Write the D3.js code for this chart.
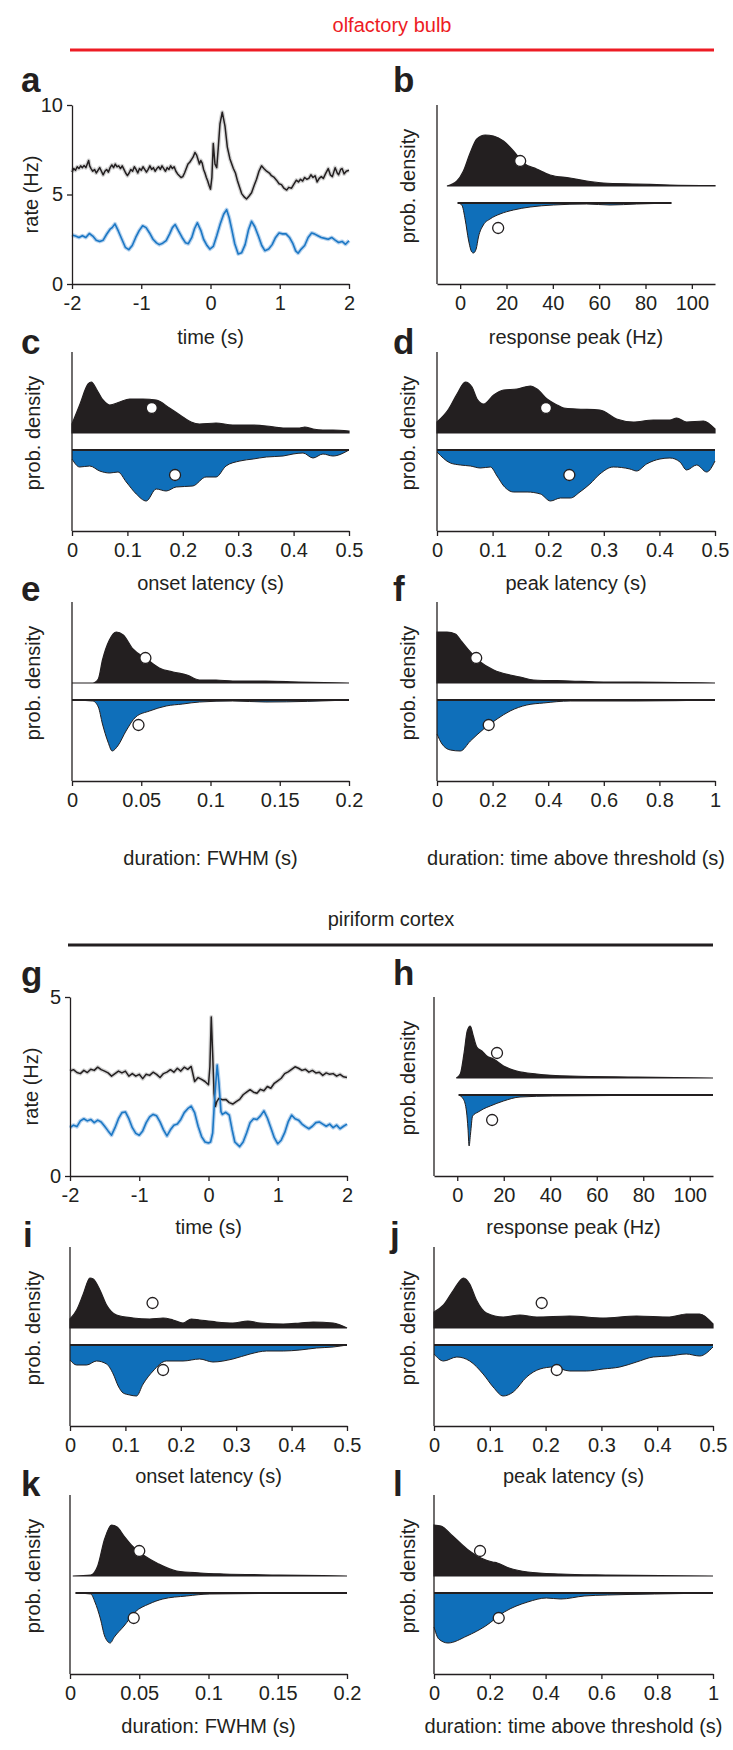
<!DOCTYPE html>
<html><head><meta charset="utf-8">
<script src="https://cdn.jsdelivr.net/npm/d3@7"></script>
<style>
body{margin:0;background:#fff}
svg{display:block}
text{font-family:"Liberation Sans",Arial,Helvetica,sans-serif;fill:#231f20}
</style>
</head><body>
<svg id="chart" width="733" height="1750"></svg>
<script>
// ---------- DATA ----------
const sectionTitles = ["olfactory bulb", "piriform cortex"];
const timeTicks = [-2, -1, 0, 1, 2];
const peakTicks = [0, 20, 40, 60, 80, 100];
const latTicks = [0, 0.1, 0.2, 0.3, 0.4, 0.5];
const fwhmTicks = [0, 0.05, 0.1, 0.15, 0.2];
const tatTicks = [0, 0.2, 0.4, 0.6, 0.8, 1];
const rateTicksA = [0, 5, 10];
const rateTicksG = [0, 5];

// panel a: firing rate (Hz) vs time (s)
const aBlack = [[-2,6.25],[-1.975,6.45],[-1.95,6.35],[-1.925,6.55],[-1.9,6.45],[-1.875,6.6],[-1.85,6.5],[-1.825,6.62],[-1.8,6.5],[-1.775,6.75],[-1.76,6.9],[-1.745,6.6],[-1.725,6.45],[-1.7,6.3],[-1.675,6.4],[-1.65,6.2],[-1.625,6.35],[-1.6,6.5],[-1.575,6.3],[-1.55,6.1],[-1.525,6.3],[-1.5,6.4],[-1.475,6.25],[-1.45,6.5],[-1.425,6.65],[-1.4,6.5],[-1.375,6.7],[-1.35,6.55],[-1.325,6.6],[-1.3,6.45],[-1.275,6.6],[-1.25,6.4],[-1.225,6.2],[-1.2,6.05],[-1.175,6.2],[-1.15,6.4],[-1.125,6.3],[-1.1,6.55],[-1.075,6.4],[-1.05,6.2],[-1.025,6.45],[-1.0,6.35],[-0.975,6.55],[-0.95,6.4],[-0.925,6.25],[-0.9,6.4],[-0.875,6.6],[-0.85,6.4],[-0.825,6.5],[-0.8,6.3],[-0.775,6.45],[-0.75,6.55],[-0.725,6.4],[-0.7,6.6],[-0.675,6.45],[-0.65,6.3],[-0.625,6.5],[-0.6,6.4],[-0.575,6.6],[-0.55,6.45],[-0.525,6.55],[-0.5,6.3],[-0.475,6.15],[-0.45,6.05],[-0.425,5.95],[-0.4,6.0],[-0.375,6.2],[-0.35,6.45],[-0.325,6.7],[-0.3,6.8],[-0.275,6.95],[-0.25,7.1],[-0.225,7.35],[-0.2,7.2],[-0.18,6.95],[-0.16,6.7],[-0.14,6.9],[-0.12,6.75],[-0.1,6.4],[-0.08,6.2],[-0.06,5.95],[-0.04,5.75],[-0.02,5.5],[0,5.3],[0.02,5.95],[0.04,7.85],[0.065,6.7],[0.09,6.5],[0.113,7.65],[0.137,8.95],[0.17,9.6],[0.21,8.8],[0.243,7.65],[0.28,7.0],[0.33,6.45],[0.36,6.2],[0.387,5.8],[0.42,5.4],[0.45,5.05],[0.49,4.85],[0.52,4.75],[0.555,4.9],[0.593,5.1],[0.63,5.5],[0.665,5.85],[0.7,6.3],[0.737,6.6],[0.77,6.45],[0.81,6.3],[0.85,6.2],[0.88,6.05],[0.92,5.95],[0.953,5.8],[0.99,5.6],[1.025,5.55],[1.06,5.35],[1.1,5.25],[1.13,5.4],[1.17,5.35],[1.2,5.55],[1.24,5.8],[1.27,5.7],[1.3,5.85],[1.33,5.75],[1.36,5.95],[1.39,5.85],[1.42,5.9],[1.45,6.1],[1.48,5.95],[1.51,6.05],[1.54,5.7],[1.57,5.9],[1.6,6.0],[1.63,5.9],[1.66,6.15],[1.7,6.45],[1.73,6.1],[1.76,6.0],[1.8,6.5],[1.83,6.2],[1.85,6.1],[1.88,6.4],[1.9,6.45],[1.93,6.15],[1.96,6.3],[2,6.35]];
const aBlue = [[-2,2.74],[-1.95,2.68],[-1.9,2.6],[-1.85,2.7],[-1.8,2.6],[-1.75,2.82],[-1.7,2.68],[-1.65,2.45],[-1.6,2.38],[-1.55,2.45],[-1.5,2.78],[-1.45,3.06],[-1.42,3.15],[-1.38,3.36],[-1.33,2.95],[-1.28,2.5],[-1.23,2.05],[-1.18,1.92],[-1.13,2.15],[-1.08,2.6],[-1.03,2.98],[-0.98,3.25],[-0.93,3.15],[-0.88,2.85],[-0.83,2.5],[-0.78,2.3],[-0.74,2.2],[-0.69,2.28],[-0.64,2.42],[-0.59,2.8],[-0.55,3.15],[-0.51,3.32],[-0.46,2.95],[-0.41,2.6],[-0.36,2.3],[-0.32,2.25],[-0.27,2.6],[-0.23,3.1],[-0.19,3.42],[-0.14,3.0],[-0.1,2.5],[-0.05,2.15],[-0.01,1.95],[0.04,2.1],[0.09,2.7],[0.14,3.35],[0.19,3.9],[0.233,4.15],[0.27,3.7],[0.31,3.0],[0.35,2.25],[0.4,1.68],[0.45,1.75],[0.5,2.2],[0.55,3.05],[0.593,3.5],[0.64,3.2],[0.69,2.7],[0.74,2.15],[0.785,1.86],[0.84,1.95],[0.89,2.2],[0.94,2.6],[0.99,2.85],[1.04,2.8],[1.09,2.8],[1.14,2.6],[1.19,2.25],[1.23,1.85],[1.265,1.72],[1.31,1.95],[1.36,2.15],[1.41,2.6],[1.46,2.85],[1.5,2.8],[1.55,2.7],[1.6,2.6],[1.65,2.55],[1.7,2.5],[1.75,2.6],[1.8,2.45],[1.85,2.32],[1.9,2.38],[1.95,2.22],[2,2.42]];

// panel g
const gBlack = [[-2,2.93],[-1.95,2.97],[-1.9,2.89],[-1.85,2.86],[-1.8,2.95],[-1.75,2.89],[-1.7,2.98],[-1.65,2.95],[-1.6,3.04],[-1.55,2.97],[-1.5,2.93],[-1.45,2.88],[-1.4,2.79],[-1.35,2.86],[-1.3,2.93],[-1.25,2.88],[-1.2,2.93],[-1.15,2.79],[-1.1,2.86],[-1.05,2.79],[-1.0,2.84],[-0.95,2.72],[-0.9,2.84],[-0.85,2.81],[-0.8,2.9],[-0.75,2.84],[-0.7,2.75],[-0.65,2.86],[-0.6,2.9],[-0.55,2.97],[-0.5,2.9],[-0.45,3.01],[-0.4,2.93],[-0.35,3.04],[-0.3,2.98],[-0.25,3.06],[-0.2,2.64],[-0.15,2.75],[-0.1,2.7],[-0.05,2.64],[0,2.55],[0.02,3.05],[0.04,4.44],[0.06,3.43],[0.08,2.31],[0.1,1.94],[0.12,2.08],[0.15,2.17],[0.2,2.13],[0.25,2.14],[0.3,2.05],[0.35,2.01],[0.4,2.08],[0.45,2.14],[0.5,2.27],[0.55,2.34],[0.6,2.41],[0.65,2.34],[0.7,2.31],[0.75,2.42],[0.8,2.38],[0.85,2.5],[0.9,2.45],[0.95,2.59],[1.0,2.66],[1.05,2.73],[1.1,2.86],[1.15,2.91],[1.2,2.98],[1.25,3.05],[1.3,3.01],[1.35,2.95],[1.4,2.98],[1.45,2.9],[1.5,2.95],[1.55,2.88],[1.6,2.9],[1.65,2.81],[1.7,2.88],[1.75,2.84],[1.8,2.86],[1.85,2.79],[1.9,2.84],[1.95,2.77],[2,2.75]];
const gBlue = [[-2,1.35],[-1.95,1.42],[-1.9,1.38],[-1.85,1.54],[-1.8,1.6],[-1.75,1.54],[-1.7,1.58],[-1.65,1.49],[-1.6,1.56],[-1.55,1.51],[-1.5,1.39],[-1.45,1.26],[-1.4,1.14],[-1.35,1.35],[-1.3,1.6],[-1.25,1.77],[-1.2,1.79],[-1.15,1.6],[-1.1,1.35],[-1.05,1.19],[-1.0,1.14],[-0.95,1.26],[-0.9,1.49],[-0.85,1.65],[-0.8,1.72],[-0.75,1.68],[-0.7,1.51],[-0.65,1.29],[-0.6,1.12],[-0.55,1.29],[-0.5,1.42],[-0.45,1.45],[-0.4,1.58],[-0.35,1.77],[-0.3,1.88],[-0.25,1.95],[-0.2,1.77],[-0.15,1.39],[-0.1,1.1],[-0.05,0.95],[0,0.92],[0.03,0.95],[0.06,1.2],[0.09,2.2],[0.125,3.1],[0.15,2.6],[0.18,1.8],[0.2,1.72],[0.25,1.78],[0.3,1.7],[0.34,1.3],[0.38,0.95],[0.45,0.82],[0.5,0.95],[0.55,1.2],[0.6,1.49],[0.65,1.6],[0.7,1.58],[0.75,1.68],[0.8,1.82],[0.85,1.62],[0.9,1.35],[0.95,1.07],[1.0,0.9],[1.05,1.0],[1.1,1.21],[1.15,1.51],[1.2,1.7],[1.25,1.6],[1.3,1.56],[1.35,1.45],[1.4,1.38],[1.45,1.32],[1.5,1.39],[1.55,1.49],[1.6,1.51],[1.65,1.45],[1.7,1.39],[1.75,1.45],[1.8,1.35],[1.85,1.42],[1.9,1.32],[1.95,1.39],[2,1.45]];

// probability densities (relative units), [value, density]
const bBlack = [[-5.7,0],[-1.4,0.10],[1.4,0.30],[4.3,0.66],[7.2,0.94],[10.8,1.02],[14.4,1.0],[18.7,0.90],[23.0,0.70],[27.3,0.46],[33.0,0.34],[38.8,0.22],[47.4,0.16],[54.6,0.10],[61.8,0.06],[76.2,0.04],[90.5,0.02],[110,0.01]];
const bBlue = [[-1.1,0],[0.7,0.04],[2.2,0.34],[3.6,0.74],[5.0,0.98],[5.7,1.0],[6.9,0.92],[7.9,0.68],[10.0,0.44],[12.9,0.32],[17.2,0.22],[23.0,0.14],[30.2,0.08],[40.2,0.04],[54.6,0.02],[64.7,0.04],[76.2,0.02],[91.2,0]];
const cBlack = [[0,0.18],[0.0138,0.56],[0.029,0.98],[0.035,1.02],[0.044,0.88],[0.056,0.66],[0.068,0.56],[0.086,0.62],[0.104,0.68],[0.128,0.68],[0.152,0.66],[0.176,0.50],[0.200,0.32],[0.215,0.22],[0.230,0.18],[0.260,0.20],[0.290,0.16],[0.321,0.16],[0.351,0.14],[0.381,0.10],[0.411,0.10],[0.420,0.12],[0.435,0.08],[0.453,0.06],[0.471,0.06],[0.5,0.04]];
const cBlue = [[0,0.18],[0.0138,0.34],[0.032,0.32],[0.050,0.42],[0.068,0.46],[0.083,0.44],[0.098,0.64],[0.116,0.88],[0.134,1.02],[0.152,0.78],[0.170,0.82],[0.188,0.74],[0.218,0.72],[0.242,0.54],[0.260,0.54],[0.278,0.32],[0.303,0.22],[0.327,0.18],[0.351,0.14],[0.381,0.12],[0.399,0.08],[0.417,0.06],[0.435,0.16],[0.453,0.08],[0.471,0.12],[0.5,0]];
const dBlack = [[0,0.22],[0.021,0.48],[0.036,0.78],[0.051,1.02],[0.063,0.92],[0.072,0.68],[0.084,0.58],[0.102,0.76],[0.120,0.86],[0.144,0.88],[0.168,0.94],[0.180,0.88],[0.198,0.68],[0.216,0.56],[0.228,0.50],[0.251,0.48],[0.293,0.46],[0.323,0.28],[0.353,0.22],[0.389,0.26],[0.419,0.26],[0.431,0.30],[0.449,0.22],[0.479,0.24],[0.5,0.08]];
const dBlue = [[0,0.04],[0.024,0.26],[0.042,0.30],[0.060,0.32],[0.078,0.36],[0.096,0.34],[0.108,0.52],[0.120,0.72],[0.138,0.84],[0.162,0.84],[0.186,0.88],[0.204,1.02],[0.222,0.96],[0.240,0.96],[0.257,0.84],[0.275,0.68],[0.293,0.48],[0.317,0.34],[0.347,0.38],[0.359,0.42],[0.377,0.28],[0.401,0.18],[0.419,0.16],[0.437,0.24],[0.449,0.40],[0.467,0.30],[0.485,0.44],[0.5,0.22]];
const eBlack = [[0,0],[0.015,0],[0.019,0.08],[0.022,0.46],[0.027,0.86],[0.032,1.02],[0.037,0.96],[0.044,0.68],[0.054,0.48],[0.063,0.30],[0.073,0.22],[0.083,0.16],[0.092,0.06],[0.104,0.06],[0.116,0.04],[0.140,0.04],[0.164,0.02],[0.2,0]];
const eBlue = [[0,0],[0.015,0.02],[0.019,0.14],[0.022,0.48],[0.026,0.84],[0.029,1.02],[0.033,0.92],[0.039,0.62],[0.046,0.34],[0.056,0.22],[0.068,0.12],[0.080,0.08],[0.092,0.04],[0.116,0.02],[0.140,0.04],[0.2,0]];
const fBlack = [[0,1.02],[0.036,1.02],[0.066,0.98],[0.090,0.82],[0.120,0.62],[0.156,0.42],[0.204,0.26],[0.263,0.16],[0.299,0.12],[0.347,0.06],[0.479,0.04],[0.599,0.02],[0.719,0.02],[1,0]];
const fBlue = [[0,0.68],[0.018,0.88],[0.048,1.0],[0.084,1.02],[0.120,0.82],[0.168,0.58],[0.216,0.38],[0.263,0.22],[0.323,0.10],[0.383,0.06],[0.479,0.02],[0.719,0.02],[1,0]];
const hBlack = [[-0.4,0],[1.3,0.08],[3.0,0.52],[4.3,0.94],[5.6,1.04],[6.9,0.84],[8.4,0.62],[10.6,0.54],[12.7,0.44],[15.6,0.38],[19.9,0.24],[25.6,0.14],[34.2,0.08],[48.5,0.04],[77.2,0.02],[110,0]];
const hBlue = [[0.6,0],[2.6,0.08],[4.0,0.34],[4.6,0.66],[5.1,1.02],[5.7,0.78],[6.6,0.42],[9,0.34],[11.2,0.28],[14.2,0.22],[19.9,0.12],[27,0.04],[41,0.02],[110,0]];
const iBlack = [[0,0.18],[0.012,0.36],[0.024,0.68],[0.036,1.0],[0.042,0.98],[0.054,0.76],[0.066,0.46],[0.084,0.26],[0.114,0.20],[0.144,0.18],[0.168,0.20],[0.186,0.16],[0.204,0.10],[0.219,0.18],[0.234,0.16],[0.264,0.12],[0.294,0.10],[0.321,0.14],[0.343,0.10],[0.385,0.08],[0.415,0.10],[0.439,0.12],[0.475,0.10],[0.5,0]];
const iBlue = [[0,0.30],[0.012,0.40],[0.030,0.40],[0.048,0.32],[0.066,0.38],[0.078,0.58],[0.087,0.82],[0.096,0.96],[0.108,1.0],[0.120,1.02],[0.132,0.78],[0.150,0.52],[0.174,0.32],[0.204,0.32],[0.234,0.28],[0.258,0.34],[0.294,0.28],[0.325,0.18],[0.355,0.12],[0.385,0.12],[0.415,0.10],[0.445,0.06],[0.475,0.04],[0.5,0]];
const jBlack = [[0,0.32],[0.017,0.46],[0.035,0.76],[0.053,1.0],[0.064,0.88],[0.076,0.56],[0.094,0.30],[0.124,0.22],[0.154,0.26],[0.184,0.22],[0.243,0.24],[0.303,0.20],[0.363,0.24],[0.422,0.22],[0.452,0.28],[0.476,0.28],[0.5,0.08]];
const jBlue = [[0,0.18],[0.017,0.32],[0.041,0.24],[0.064,0.32],[0.088,0.58],[0.106,0.84],[0.124,1.02],[0.142,0.94],[0.166,0.64],[0.190,0.48],[0.214,0.44],[0.243,0.52],[0.273,0.52],[0.303,0.48],[0.333,0.44],[0.363,0.34],[0.393,0.24],[0.422,0.22],[0.452,0.18],[0.476,0.22],[0.5,0.04]];
const kBlack = [[0.002,0],[0.015,0.02],[0.020,0.20],[0.025,0.74],[0.030,1.02],[0.034,0.98],[0.039,0.80],[0.045,0.60],[0.054,0.40],[0.064,0.24],[0.077,0.10],[0.094,0.06],[0.111,0.04],[0.151,0.02],[0.2,0]];
const kBlue = [[0.004,0],[0.015,0.02],[0.018,0.18],[0.022,0.52],[0.025,0.86],[0.029,1.0],[0.032,0.88],[0.039,0.66],[0.047,0.38],[0.057,0.22],[0.067,0.12],[0.084,0.06],[0.101,0.02],[0.2,0]];
const lBlack = [[0,1.02],[0.025,1.0],[0.067,0.80],[0.118,0.54],[0.168,0.36],[0.210,0.28],[0.227,0.26],[0.269,0.16],[0.336,0.08],[0.454,0.04],[0.622,0.02],[1,0]];
const lBlue = [[0,0.68],[0.017,0.92],[0.050,1.0],[0.118,0.86],[0.185,0.66],[0.252,0.38],[0.336,0.18],[0.403,0.10],[0.454,0.12],[0.538,0.06],[0.622,0.04],[0.790,0.02],[1,0]];

// medians [black, blue]
const medians = {b:[25.9,16.4], c:[0.144,0.186], d:[0.196,0.238], e:[0.053,0.048], f:[0.141,0.186],
                 h:[17.1,15.0], i:[0.149,0.168], j:[0.193,0.220], k:[0.050,0.046], l:[0.165,0.232]};

// ---------- STYLE / LAYOUT ----------
const INK = "#231f20", BLUE = "#0f6fba", BLUE_LINE = "#1b77c4", RED = "#ed1c24";
const FS = 20, LETTER_FS = 35;
const svg = d3.select("#chart");
const PH = 179;              // panel height
const densH = d3.scaleLinear().domain([0, 1]).range([0, 50]);

function styleAxis(g) {
  g.selectAll("path.domain").attr("stroke", INK).attr("stroke-width", 1.3);
  g.selectAll(".tick line").attr("stroke", INK).attr("stroke-width", 1.3);
  g.selectAll(".tick text").attr("fill", INK).style("font-size", FS + "px")
    .style("font-family", '"Liberation Sans", Arial, sans-serif');
}

function xAxis(x, y, ticks) {
  const g = svg.append("g").attr("transform", `translate(0,${y})`)
    .call(d3.axisBottom(x).tickValues(ticks).tickFormat(d => String(d))
      .tickSize(5).tickSizeOuter(0).tickPadding(7));
  styleAxis(g);
}

function letter(txt, x, y) {
  svg.append("text").attr("x", x).attr("y", y).text(txt)
    .style("font-size", LETTER_FS + "px").style("font-weight", "bold");
}

function xLabel(txt, x, y) {
  svg.append("text").attr("x", x).attr("y", y).attr("text-anchor", "middle")
    .style("font-size", FS + "px").text(txt);
}
function yLabel(txt, x, y) {
  svg.append("text").attr("transform", `translate(${x},${y}) rotate(-90)`)
    .attr("text-anchor", "middle").style("font-size", FS + "px").text(txt);
}

function ratePanel(p) {
  const bottom = p.top + PH;
  const x = d3.scaleLinear().domain([-2, 2]).range([p.x0, p.x1]);
  const y = d3.scaleLinear().domain([0, p.ymax]).range([bottom, p.top]);
  const line = d3.line().x(d => x(d[0])).y(d => y(d[1]));
  svg.append("path").datum(p.black).attr("d", line).attr("fill", "none")
    .attr("stroke", "#d2d2d2").attr("stroke-width", 4).attr("stroke-linejoin", "round");
  svg.append("path").datum(p.blue).attr("d", line).attr("fill", "none")
    .attr("stroke", "#b8d3ee").attr("stroke-width", 4).attr("stroke-linejoin", "round");
  svg.append("path").datum(p.black).attr("d", line).attr("fill", "none")
    .attr("stroke", INK).attr("stroke-width", 1.5).attr("stroke-linejoin", "round");
  svg.append("path").datum(p.blue).attr("d", line).attr("fill", "none")
    .attr("stroke", BLUE_LINE).attr("stroke-width", 1.6).attr("stroke-linejoin", "round");
  const gy = svg.append("g").attr("transform", `translate(${p.x0},0)`)
    .call(d3.axisLeft(y).tickValues(p.yticks).tickFormat(d => String(d))
      .tickSize(5).tickSizeOuter(0).tickPadding(4));
  styleAxis(gy);
  xAxis(x, bottom, timeTicks);
  xLabel("time (s)", (p.x0 + p.x1) / 2, bottom + p.labelOff);
  yLabel("rate (Hz)", p.ylx, p.top + PH / 2);
  letter(p.letter, p.lx, p.ly);
}

function densityPanel(p) {
  const bottom = p.top + PH;
  const bBase = p.top + 81, uBase = p.top + 98;
  const x = d3.scaleLinear().domain(p.dom).range([p.x0, p.x1]);
  const areaB = d3.area().x(d => x(d[0])).y0(bBase).y1(d => bBase - densH(d[1])).curve(d3.curveMonotoneX);
  const areaU = d3.area().x(d => x(d[0])).y0(uBase).y1(d => uBase + densH(d[1])).curve(d3.curveMonotoneX);
  const lineU = d3.line().x(d => x(d[0])).y(d => uBase + densH(d[1])).curve(d3.curveMonotoneX);
  svg.append("path").datum(p.black).attr("d", areaB).attr("fill", INK)
    .attr("stroke", INK).attr("stroke-width", 1.2);
  svg.append("path").datum(p.blue).attr("d", areaU).attr("fill", BLUE);
  svg.append("path").datum(p.blue).attr("d", lineU).attr("fill", "none")
    .attr("stroke", INK).attr("stroke-width", 1);
  svg.append("line").attr("x1", x(p.blue[0][0])).attr("x2", x(p.blue[p.blue.length - 1][0]))
    .attr("y1", uBase).attr("y2", uBase).attr("stroke", INK).attr("stroke-width", 1.8);
  const med = medians[p.letter];
  svg.append("circle").attr("cx", x(med[0])).attr("cy", bBase - densH(0.5)).attr("r", 5.5)
    .attr("fill", "#fff").attr("stroke", INK).attr("stroke-width", 1.3);
  svg.append("circle").attr("cx", x(med[1])).attr("cy", uBase + densH(0.5)).attr("r", 5.5)
    .attr("fill", "#fff").attr("stroke", INK).attr("stroke-width", 1.3);
  // y axis line (no ticks)
  svg.append("line").attr("x1", p.x0).attr("x2", p.x0).attr("y1", p.top).attr("y2", bottom)
    .attr("stroke", INK).attr("stroke-width", 1.3);
  xAxis(x, bottom, p.ticks);
  xLabel(p.label, (p.x0 + p.x1) / 2, bottom + p.labelOff);
  yLabel("prob. density", p.ylx, p.top + 81);
  letter(p.letter, p.lx, p.ly);
}

// ---------- SECTION HEADERS ----------
svg.append("text").attr("x", 392).attr("y", 32).attr("text-anchor", "middle")
  .style("font-size", FS + "px").style("fill", RED).text(sectionTitles[0]);
svg.append("line").attr("x1", 70).attr("x2", 714).attr("y1", 50).attr("y2", 50)
  .attr("stroke", RED).attr("stroke-width", 3);
svg.append("text").attr("x", 391).attr("y", 926).attr("text-anchor", "middle")
  .style("font-size", FS + "px").text(sectionTitles[1]);
svg.append("line").attr("x1", 68).attr("x2", 713).attr("y1", 945).attr("y2", 945)
  .attr("stroke", INK).attr("stroke-width", 3);

// ---------- PANELS ----------
const L1 = [72, 349], R1 = [437, 715], L2 = [70, 347], R2 = [434, 713];

ratePanel({letter:"a", x0:L1[0], x1:L1[1], top:105, ymax:10, yticks:rateTicksA, black:aBlack, blue:aBlue, labelOff:60, ylx:38, lx:21, ly:92});
densityPanel({letter:"b", x0:R1[0], x1:R1[1], top:105, dom:[-10,110], ticks:peakTicks, black:bBlack, blue:bBlue, label:"response peak (Hz)", labelOff:60, ylx:415, lx:393, ly:92});
densityPanel({letter:"c", x0:L1[0], x1:L1[1], top:352, dom:[0,0.5], ticks:latTicks, black:cBlack, blue:cBlue, label:"onset latency (s)", labelOff:59, ylx:40, lx:21, ly:354});
densityPanel({letter:"d", x0:R1[0], x1:R1[1], top:352, dom:[0,0.5], ticks:latTicks, black:dBlack, blue:dBlue, label:"peak latency (s)", labelOff:59, ylx:415, lx:393, ly:354});
densityPanel({letter:"e", x0:L1[0], x1:L1[1], top:602, dom:[0,0.2], ticks:fwhmTicks, black:eBlack, blue:eBlue, label:"duration: FWHM (s)", labelOff:84, ylx:40, lx:21, ly:601});
densityPanel({letter:"f", x0:R1[0], x1:R1[1], top:602, dom:[0,1], ticks:tatTicks, black:fBlack, blue:fBlue, label:"duration: time above threshold (s)", labelOff:84, ylx:415, lx:393, ly:601});

ratePanel({letter:"g", x0:L2[0], x1:L2[1], top:997, ymax:5, yticks:rateTicksG, black:gBlack, blue:gBlue, labelOff:58, ylx:38, lx:21, ly:986});
densityPanel({letter:"h", x0:R2[0], x1:R2[1], top:997, dom:[-10,110], ticks:peakTicks, black:hBlack, blue:hBlue, label:"response peak (Hz)", labelOff:58, ylx:415, lx:393, ly:985});
densityPanel({letter:"i", x0:L2[0], x1:L2[1], top:1247, dom:[0,0.5], ticks:latTicks, black:iBlack, blue:iBlue, label:"onset latency (s)", labelOff:57, ylx:40, lx:23, ly:1247});
densityPanel({letter:"j", x0:R2[0], x1:R2[1], top:1247, dom:[0,0.5], ticks:latTicks, black:jBlack, blue:jBlue, label:"peak latency (s)", labelOff:57, ylx:415, lx:390, ly:1247});
densityPanel({letter:"k", x0:L2[0], x1:L2[1], top:1495, dom:[0,0.2], ticks:fwhmTicks, black:kBlack, blue:kBlue, label:"duration: FWHM (s)", labelOff:59, ylx:40, lx:21, ly:1496});
densityPanel({letter:"l", x0:R2[0], x1:R2[1], top:1495, dom:[0,1], ticks:tatTicks, black:lBlack, blue:lBlue, label:"duration: time above threshold (s)", labelOff:59, ylx:415, lx:393, ly:1496});
</script>
</body></html>
